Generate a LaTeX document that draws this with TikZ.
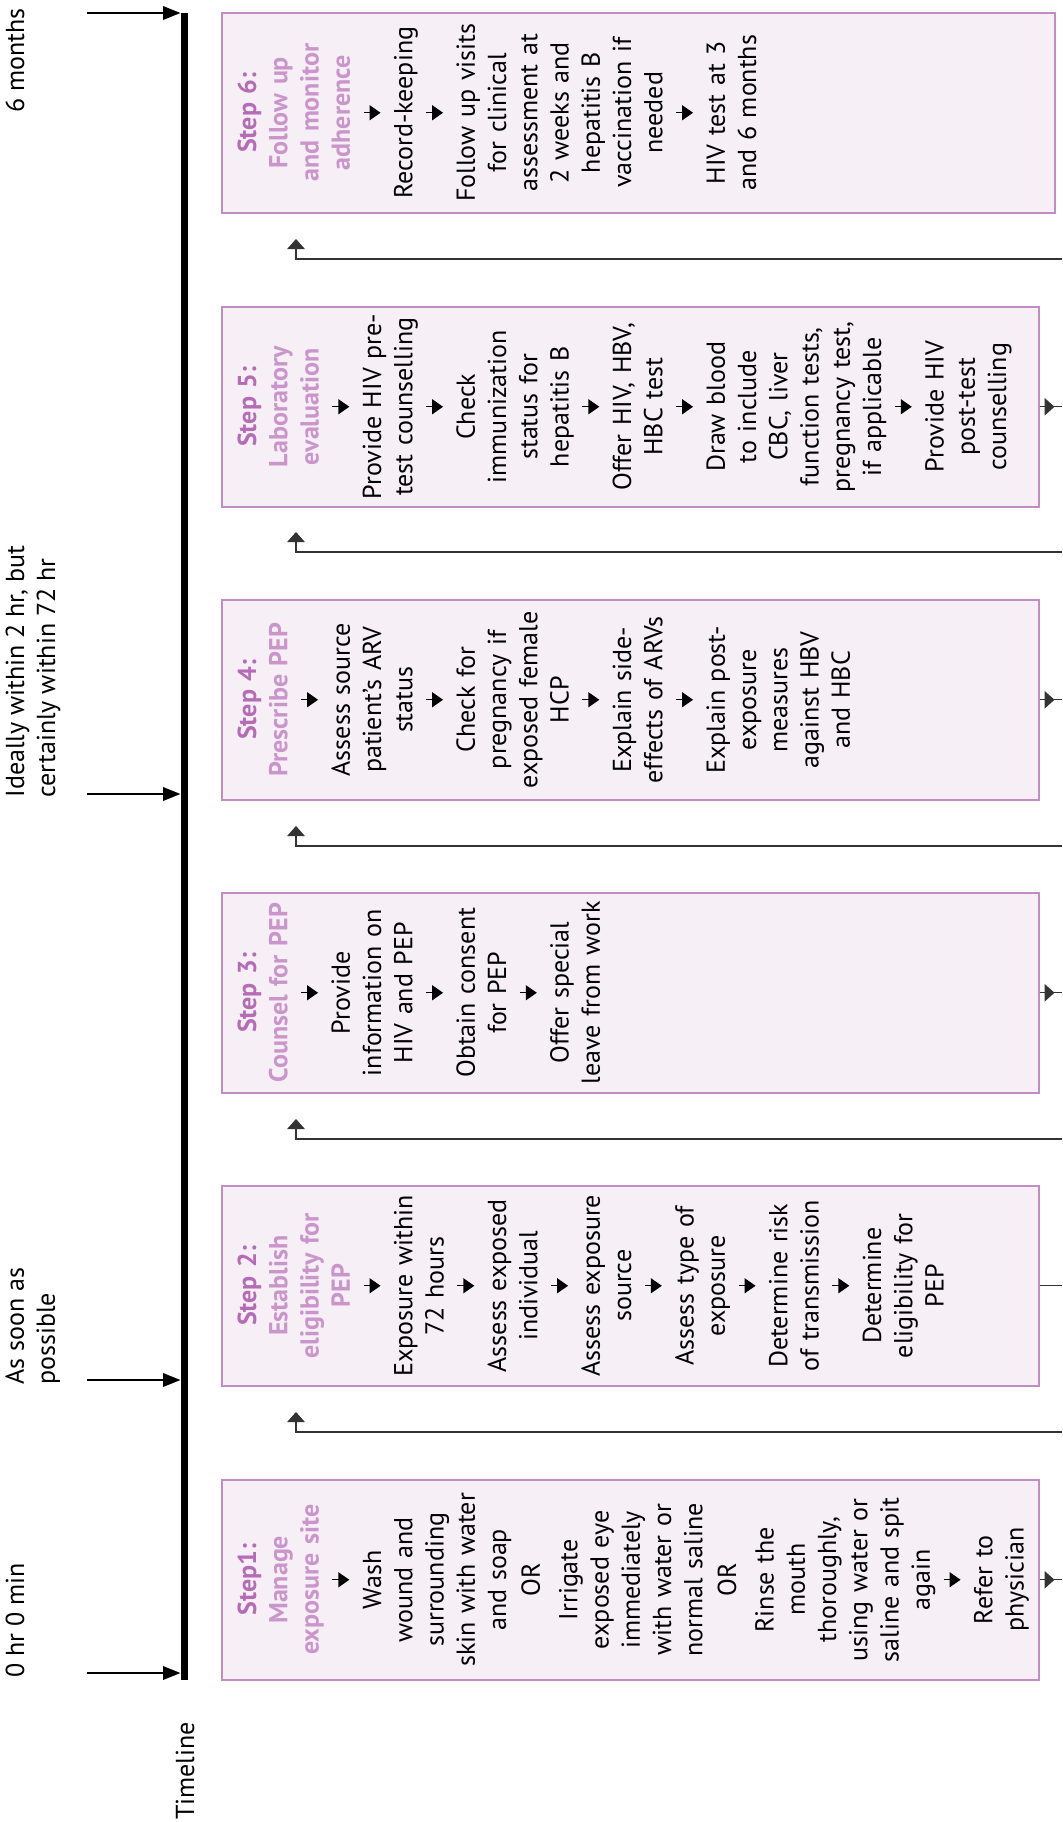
\documentclass[tikz,border=0pt]{standalone}
\usepackage{fontspec}
\setmainfont{PT Sans}
\usepackage{tikz}
\usetikzlibrary{positioning,arrows.meta,calc}
\definecolor{boxfill}{HTML}{F6EFF6}
\definecolor{boxline}{HTML}{C28DC2}
\definecolor{steppink}{HTML}{B66BB6}
\definecolor{titlepink}{HTML}{CA95CA}
\definecolor{flowgray}{HTML}{333333}
\tikzset{
  stepbox/.style={draw=boxline, fill=boxfill, line width=0.6pt, inner sep=0pt,
    minimum width=326.8pt, minimum height=80pt, anchor=north west},
  steptext/.style={rotate=90, anchor=north, align=center, text width=84pt, inner sep=0pt,
    font=\fontsize{10.4}{12.5}\selectfont},
  whenlabel/.style={rotate=90, align=left, inner sep=0pt, font=\fontsize{10.4}{12.4}\selectfont},
  tlarrow/.style={-{Triangle[length=7pt,width=5.4pt]}, line width=0.8pt},
  flowarrow/.style={draw=flowgray, line width=0.5pt},
  flowtip/.style={-{Triangle[length=4pt,width=7pt]}},
}
\newcommand{\flowdown}{\tikz[baseline=0pt]\draw[black, line width=0.55pt, -{Triangle[length=4.4pt,width=6pt]}] (0pt,7pt) -- (0pt,0.2pt);}
\newcommand{\steptitle}[2]{{\bfseries\color{steppink}#1}\\{\bfseries\color{titlepink}#2}}

\begin{document}
\begin{tikzpicture}[x=0.4pt, y=-0.4pt]
  \useasboundingbox (0,0) rectangle (1062,1822);
  % timeline
  \node[fill=black, inner sep=0pt, minimum width=2.8pt, minimum height=666.8pt, anchor=north] (bar) at (184.5,12) {};
  \node[rotate=90, font=\fontsize{10.4}{12.4}\selectfont] (tl) at (185,1771) {Timeline};
  \node[whenlabel, anchor=north west] (when0) at (5,1678) {0 hr 0 min};
  \node[whenlabel, anchor=north west] (when1) at (5,1385) {As soon as\\possible};
  \node[whenlabel, anchor=north west] (when2) at (5,798) {Ideally within 2 hr, but\\certainly within 72 hr};
  \node[whenlabel, anchor=north east] (when3) at (5,8) {6 months};
  \foreach \y/\n in {1673/0, 1380/1, 794/2, 13/3} {
    \coordinate (from\n) at (87,\y);
    \draw[tlarrow] (from\n) -- (from\n -| bar.west);
  }
  % steps
  \node[stepbox] (box1) at (221,1479) {};
  \node[stepbox] (box2) at (221,1185) {};
  \node[stepbox] (box3) at (221,892) {};
  \node[stepbox] (box4) at (221,599) {};
  \node[stepbox] (box5) at (221,306) {};
  \node[stepbox, minimum width=333.2pt] (box6) at (221,12) {};
  \node[steptext] (text1) at ([xshift=6.4pt]box1.west) {\steptitle{Step1:}{Manage\\exposure site}\\\flowdown\\
    Wash\\wound and\\surrounding\\skin with water\\and soap\\[1pt]OR\\[2.5pt]
    Irrigate\\exposed eye\\immediately\\with water or\\normal saline\\[1pt]OR\\[2.5pt]
    Rinse the\\mouth\\thoroughly,\\using water or\\saline and spit\\again\\\flowdown\\
    Refer to\\physician};
  \node[steptext] (text2) at ([xshift=6.4pt]box2.west) {\steptitle{Step 2:}{Establish\\eligibility for\\PEP}\\\flowdown\\
    Exposure within\\72 hours\\\flowdown\\Assess exposed\\individual\\\flowdown\\
    Assess exposure\\source\\\flowdown\\Assess type of\\exposure\\\flowdown\\
    Determine risk\\of transmission\\\flowdown\\Determine\\eligibility for\\PEP};
  \node[steptext] (text3) at ([xshift=6.4pt]box3.west) {\steptitle{Step 3:}{Counsel for PEP}\\\flowdown\\
    Provide\\information on\\HIV and PEP\\\flowdown\\Obtain consent\\for PEP\\\flowdown\\
    Offer special\\leave from work};
  \node[steptext] (text4) at ([xshift=6.4pt]box4.west) {\steptitle{Step 4:}{Prescribe PEP}\\\flowdown\\
    Assess source\\patient’s ARV\\status\\\flowdown\\Check for\\pregnancy if\\exposed female\\HCP\\\flowdown\\
    Explain side-\\effects of ARVs\\\flowdown\\Explain post-\\exposure\\measures\\against HBV\\and HBC};
  \node[steptext] (text5) at ([xshift=6.4pt]box5.west) {\steptitle{Step 5:}{Laboratory\\evaluation}\\\flowdown\\
    Provide HIV pre-\\test counselling\\\flowdown\\Check\\immunization\\status for\\hepatitis B\\\flowdown\\
    Offer HIV, HBV,\\HBC test\\\flowdown\\Draw blood\\to include\\CBC, liver\\function tests,\\pregnancy test,\\if applicable\\\flowdown\\
    Provide HIV\\post-test\\counselling};
  \node[steptext] (text6) at ([xshift=6.4pt]box6.west) {\steptitle{Step 6:}{Follow up\\and monitor\\adherence}\\\flowdown\\
    Record-keeping\\\flowdown\\Follow up visits\\for clinical\\assessment at\\2 weeks and\\hepatitis B\\vaccination if\\needed\\\flowdown\\
    HIV test at 3\\and 6 months};
  % out of each step
  \coordinate (edge) at (1062,0);
  \foreach \b in {1,3,4,5} {
    \draw[flowarrow] (box\b.east) -- (box\b.east -| edge);
    \draw[flowarrow, flowtip] (box\b.east) -- ++(15,0);
  }
  \draw[flowarrow] (box2.east) -- (box2.east -| edge);
  % back to the next step
  \foreach \y/\n in {1432/1, 1139/2, 846/3, 552/4, 259/5} {
    \coordinate (turn\n) at (296,\y);
    \draw[flowarrow, flowtip] (turn\n -| edge) -- (turn\n) -- ++(0,-20);
  }
\end{tikzpicture}
\end{document}
